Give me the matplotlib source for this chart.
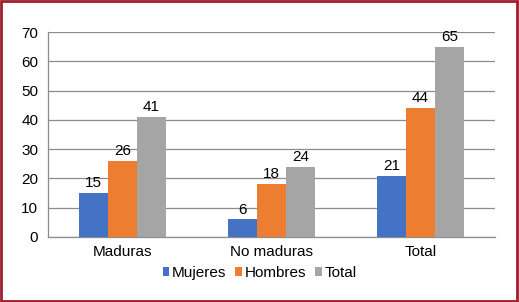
import matplotlib
matplotlib.use("Agg")
import matplotlib.pyplot as plt
import numpy as np
from matplotlib.patches import Rectangle

categories = ["Maduras", "No maduras", "Total"]
series_names = ["Mujeres", "Hombres", "Total"]
mujeres = [15, 6, 21]
hombres = [26, 18, 44]
total = [41, 24, 65]
yticks = [0, 10, 20, 30, 40, 50, 60, 70]

colors = ["#4472C4", "#ED7D31", "#A5A5A5"]
plt.rcParams['font.family'] = ['Liberation Sans', 'DejaVu Sans']

fig = plt.figure(figsize=(5.19, 3.02), dpi=100)
ax = fig.add_axes([48/519, 1-237/302, 447/519, 205/302])

x = np.arange(len(categories))
w = 0.195
for i, (vals, name) in enumerate(zip([mujeres, hombres, total], series_names)):
    bars = ax.bar(x + (i-1)*w, vals, width=w, color=colors[i], label=name, zorder=3)
    for b, v in zip(bars, vals):
        ax.text(b.get_x()+b.get_width()/2, v+1.0, str(v), ha='center', va='bottom',
                fontsize=11, color='#000000', zorder=4)

ax.set_xlim(-0.5, 2.5)
ax.set_ylim(0, 70)
ax.set_yticks(yticks)
ax.set_xticks(x)
ax.set_xticklabels(categories)
ax.tick_params(axis='both', length=0, labelsize=11, colors='#000000')
ax.tick_params(axis='y', pad=7)
ax.tick_params(axis='x', pad=6)
ax.grid(axis='y', color='#8C8C8C', linewidth=0.9, zorder=0)
for s in ['top', 'right']:
    ax.spines[s].set_visible(False)
ax.spines['left'].set_color('#8C8C8C')
ax.spines['bottom'].set_color('#8C8C8C')
ax.spines['left'].set_linewidth(0.9)
ax.spines['bottom'].set_linewidth(0.9)

leg = fig.legend(loc='center', bbox_to_anchor=(0.5, 1-273/302), ncol=3, frameon=False,
                 fontsize=11, handlelength=0.45, handleheight=0.45, handletextpad=0.15,
                 columnspacing=0.6)

fig.patches.append(Rectangle((0.002, 0.003), 0.995, 0.994, transform=fig.transFigure,
                             fill=False, edgecolor='#A01C2C', linewidth=2))
fig.savefig("out.png", dpi=100)
